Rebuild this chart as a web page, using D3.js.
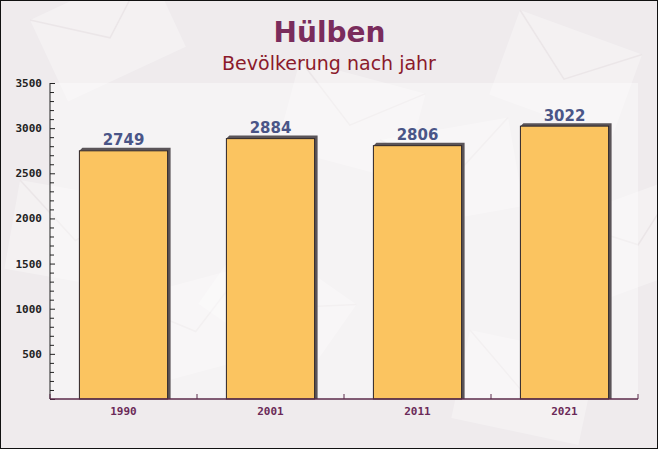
<!DOCTYPE html>
<html>
<head>
<meta charset="utf-8">
<script src="https://cdn.jsdelivr.net/npm/d3@7"></script>
<style>
  html, body { margin: 0; padding: 0; background: #fff; }
  svg { display: block; }
</style>
</head>
<body>
<svg class="chart"></svg>
<script>
"use strict";

var width  = 658,
    height = 449;

var years  = ["1990", "2001", "2011", "2021"],
    values = [2749, 2884, 2806, 3022],
    yTicks = [500, 1000, 1500, 2000, 2500, 3000, 3500];

var title    = "Hülben",
    subtitle = "Bevölkerung nach jahr";

var margin = {top: 83, right: 20, bottom: 50, left: 50};

var chart = d3.select(".chart")
              .attr("width", width)
              .attr("height", height);

// background with faint envelope shapes
chart.append("rect")
     .attr("width", width).attr("height", height)
     .attr("fill", "#efebed");

var deco = [[30, 20, -25], [300, 60, 15], [520, 10, 20], [120, 300, -15], [470, 330, 12],
            [250, 230, 35], [560, 220, -20], [20, 180, 10], [380, 140, -10]];
deco.forEach(function(d) {
    var g = chart.append("g")
                 .attr("transform", "translate(" + d[0] + "," + d[1] + ") rotate(" + d[2] + ")");
    g.append("rect").attr("width", 130).attr("height", 90)
     .attr("fill", "#ffffff").attr("opacity", 0.3);
    g.append("path").attr("d", "M0,0 L65,50 L130,0")
     .attr("fill", "none").attr("stroke", "#ebe6e8").attr("stroke-width", 1.5);
});

// plot area lighter
chart.append("rect")
     .attr("x", margin.left).attr("y", margin.top)
     .attr("width", width - margin.left - margin.right)
     .attr("height", height - margin.top - margin.bottom)
     .attr("fill", "#ffffff").attr("opacity", 0.4);

// titles
chart.append("text")
     .attr("x", 329.5).attr("y", 42)
     .attr("text-anchor", "middle")
     .style("font-family", "'DejaVu Sans', sans-serif")
     .style("font-weight", "bold")
     .style("font-size", "28px")
     .attr("fill", "#7a2c5c")
     .text(title);

chart.append("text")
     .attr("x", width / 2).attr("y", 70)
     .attr("text-anchor", "middle")
     .style("font-family", "'DejaVu Sans', sans-serif")
     .style("font-size", "19px")
     .attr("fill", "#8b1a2b")
     .text(subtitle);

// scales
var x = d3.scaleBand()
          .domain(years)
          .range([margin.left, width - margin.right])
          .paddingInner(0.4)
          .paddingOuter(0.2);

var y = d3.scaleLinear()
          .domain([0, 3500])
          .range([height - margin.bottom, margin.top]);

var base = y(0);

// bars with 3d shadow
var bars = chart.selectAll(".bar")
                .data(values)
                .enter()
                .append("g")
                .attr("class", "bar");

bars.append("path")
    .attr("fill", "#5a5458")
    .attr("d", function(d, i) {
        var x0 = x(years[i]), x1 = x0 + x.bandwidth(), t = y(d), o = 3;
        return "M" + x0 + "," + t + " L" + (x0 + o) + "," + (t - o) +
               " L" + (x1 + o) + "," + (t - o) + " L" + (x1 + o) + "," + base +
               " L" + x1 + "," + base + " L" + x1 + "," + t + " Z";
    });

bars.append("rect")
    .attr("x", function(d, i) { return x(years[i]); })
    .attr("y", function(d) { return y(d); })
    .attr("width", x.bandwidth())
    .attr("height", function(d) { return base - y(d); })
    .attr("fill", "#fbc460")
    .attr("stroke", "#2a2226")
    .attr("stroke-width", 1);

bars.append("text")
    .attr("x", function(d, i) { return x(years[i]) + x.bandwidth() / 2; })
    .attr("y", function(d) { return y(d) - 5.5; })
    .attr("text-anchor", "middle")
    .style("font-family", "'DejaVu Sans', sans-serif")
    .style("font-weight", "bold")
    .style("font-size", "15px")
    .attr("fill", "#4a5587")
    .text(function(d) { return d; });

// y axis
var yAxis = d3.axisRight(y)
              .tickValues(d3.range(0, 3501, 100))
              .tickSize(4)
              .tickFormat("");

chart.append("g")
     .attr("transform", "translate(" + margin.left + ",0)")
     .call(yAxis)
     .call(function(g) {
         g.select(".domain").attr("stroke", "#222").attr("d", "M0," + y(3500) + "V" + base);
         g.selectAll(".tick line")
          .attr("stroke", "#222")
          .attr("x2", function(d) { return d % 500 === 0 ? 5 : 4; });
     });

chart.append("g")
     .selectAll("text")
     .data(yTicks)
     .enter()
     .append("text")
     .attr("x", margin.left - 8)
     .attr("y", function(d) { return y(d) + 4; })
     .attr("text-anchor", "end")
     .style("font-family", "'DejaVu Sans Mono', monospace")
     .style("font-weight", "bold")
     .style("font-size", "11px")
     .attr("fill", "#222")
     .text(function(d) { return d; });

// x axis
var step = x.step();
var xEdges = d3.range(years.length + 1).map(function(i) { return margin.left + i * step; });

var xAxis = chart.append("g");
xAxis.append("line")
     .attr("x1", margin.left).attr("x2", width - margin.right)
     .attr("y1", base).attr("y2", base)
     .attr("stroke", "#5b2a4a").attr("stroke-width", 1.5);

xAxis.selectAll(".xt")
     .data(xEdges)
     .enter()
     .append("line")
     .attr("x1", function(d) { return d; }).attr("x2", function(d) { return d; })
     .attr("y1", base).attr("y2", base - 5)
     .attr("stroke", "#5b2a4a");

xAxis.selectAll(".xl")
     .data(years)
     .enter()
     .append("text")
     .attr("x", function(d) { return x(d) + x.bandwidth() / 2; })
     .attr("y", base + 16)
     .attr("text-anchor", "middle")
     .style("font-family", "'DejaVu Sans Mono', monospace")
     .style("font-weight", "bold")
     .style("font-size", "11px")
     .attr("fill", "#6b2a58")
     .text(function(d) { return d; });

// frame
chart.append("rect")
     .attr("x", 0.5).attr("y", 0.5)
     .attr("width", width - 1).attr("height", height - 1)
     .attr("fill", "none").attr("stroke", "#111");
</script>
</body>
</html>
